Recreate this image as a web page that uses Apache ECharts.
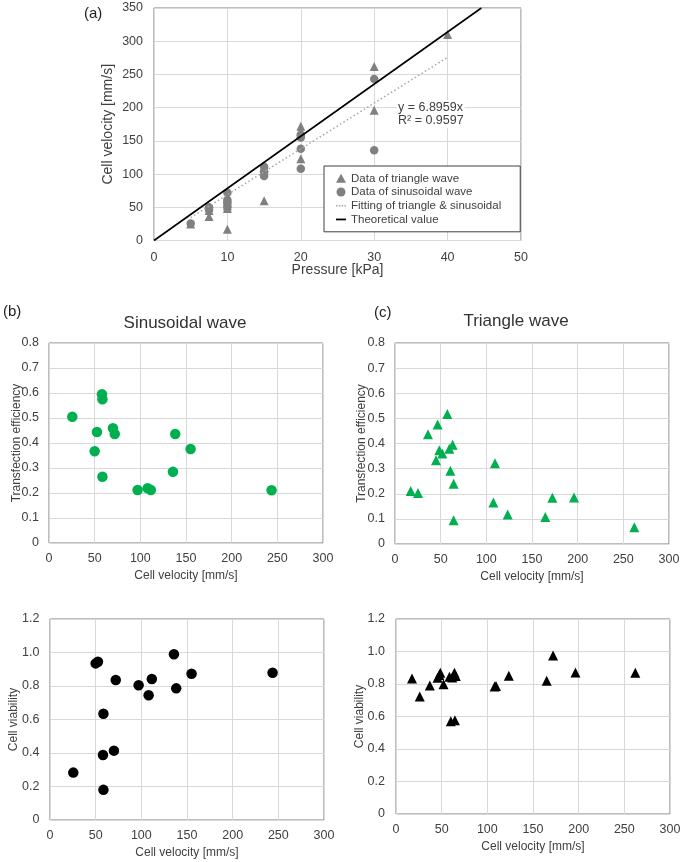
<!DOCTYPE html>
<html>
<head>
<meta charset="utf-8">
<script src="https://cdn.jsdelivr.net/npm/echarts@6/dist/echarts.min.js"></script>
<style>
  html, body { margin: 0; padding: 0; background: #fff; }
  #chart { width: 684px; height: 862px; }
</style>
</head>
<body>
<div id="chart"></div>
<script>
// (a) pressure vs cell velocity
var triPressure = [5, 7.5, 7.5, 10, 10, 10, 10, 10, 15, 15, 15, 20, 20, 20, 30, 30, 40];
var triVelocityA = [25, 36, 45, 17, 48, 52, 58, 64, 60, 108, 110, 123, 165, 172, 196, 262, 310];
var sinPressure = [5, 7.5, 7.5, 10, 10, 10, 10, 15, 15, 15, 20, 20, 20, 20, 30, 30];
var sinVelocityA = [25.5, 46, 50, 50, 56, 61, 72, 97, 104, 111, 108, 138, 155, 159, 136, 243];
var fitX = [5, 40];
var fitY = [34.5, 275.8];
var theoryX = [0, 44.6];
var theoryY = [0, 350];

// (b) sinusoidal wave
var sinVel = [25.5, 50, 52.5, 58, 58.5, 58.5, 70, 72, 97, 108, 111.5, 135.7, 138.2, 155, 243.7];
var sinEff = [0.505, 0.367, 0.444, 0.595, 0.575, 0.265, 0.459, 0.436, 0.212, 0.219, 0.212, 0.285, 0.436, 0.376, 0.211];
var sinVia = [0.283, 0.935, 0.945, 0.388, 0.634, 0.180, 0.414, 0.836, 0.804, 0.745, 0.842, 0.990, 0.786, 0.873, 0.879];

// (c) triangle wave
var triVelEff = [17.2, 25.2, 36.1, 44.9, 46.7, 48.5, 51.8, 57.3, 59.5, 60.6, 63.1, 64.2, 64.2, 107.7, 109.5, 123.4, 164.6, 172.3, 196, 262];
var triEff = [0.211, 0.203, 0.437, 0.333, 0.476, 0.373, 0.360, 0.517, 0.379, 0.292, 0.395, 0.240, 0.095, 0.165, 0.321, 0.117, 0.107, 0.184, 0.185, 0.067];
var triVelVia = [17.5, 26, 37, 45.5, 47.5, 48.5, 52, 58.5, 60, 61.5, 64, 64.5, 65.5, 108, 109.5, 123.5, 165, 172, 196.5, 262];
var triVia = [0.834, 0.723, 0.791, 0.838, 0.855, 0.869, 0.799, 0.845, 0.571, 0.84, 0.869, 0.577, 0.849, 0.785, 0.787, 0.851, 0.82, 0.976, 0.871, 0.869];

function pairs(xs, ys) {
    return xs.map(function (x, i) { return [x, ys[i]]; });
}

var FONT = '"Liberation Sans", Arial, sans-serif';
var TXT = '#404040';
var GRID_LINE = '#d9d9d9';
var BORDER = '#7a7a7a';
var GREEN = '#00b050';

function valueAxis(opt) {
    return {
        type: 'value',
        gridIndex: opt.grid,
        min: opt.min,
        max: opt.max,
        interval: opt.interval,
        name: opt.name,
        nameLocation: 'middle',
        nameGap: opt.nameGap,
        nameMoveOverlap: false,
        nameTextStyle: { fontFamily: FONT, fontSize: opt.nameSize || 12, color: TXT },
        axisLine: { show: false },
        axisTick: { show: false },
        axisLabel: {
            fontFamily: FONT, fontSize: 12.5, color: TXT, margin: opt.margin || 10,
            formatter: opt.formatter
        },
        splitLine: { show: true, lineStyle: { color: GRID_LINE, width: 1 } }
    };
}

function oneDecimal(v) {
    return v === 0 ? '0' : v.toFixed(1);
}

var chart = echarts.init(document.getElementById('chart'));

var gridBase = { show: true, borderColor: BORDER, borderWidth: 1, backgroundColor: 'transparent' };

// short line icons for the legend (dotted fit / solid theory)
var dotIcon = 'path://M0,0h1.6v1.6h-1.6z M3,0h1.6v1.6h-1.6z M6,0h1.6v1.6h-1.6z M9,0h1.6v1.6h-1.6z';
var lineIcon = 'path://M0,0h9v1.6h-9z';

var option = {
    animation: false,
    textStyle: { fontFamily: FONT },
    grid: [
        Object.assign({ left: 154, top: 8, width: 367, height: 232.5 }, gridBase),
        Object.assign({ left: 49, top: 343, width: 274, height: 200 }, gridBase),
        Object.assign({ left: 395, top: 343, width: 274, height: 201 }, gridBase),
        Object.assign({ left: 50, top: 619, width: 274, height: 201 }, gridBase),
        Object.assign({ left: 396, top: 619, width: 274, height: 195 }, gridBase)
    ],
    xAxis: [
        valueAxis({ grid: 0, min: 0, max: 50, interval: 10, name: 'Pressure [kPa]', nameGap: 23, nameSize: 14, margin: 11 }),
        valueAxis({ grid: 1, min: 0, max: 300, interval: 50, name: 'Cell velocity [mm/s]', nameGap: 27, margin: 9 }),
        valueAxis({ grid: 2, min: 0, max: 300, interval: 50, name: 'Cell velocity [mm/s]', nameGap: 27, margin: 9 }),
        valueAxis({ grid: 3, min: 0, max: 300, interval: 50, name: 'Cell velocity [mm/s]', nameGap: 27, margin: 9 }),
        valueAxis({ grid: 4, min: 0, max: 300, interval: 50, name: 'Cell velocity [mm/s]', nameGap: 27, margin: 9 })
    ],
    yAxis: [
        valueAxis({ grid: 0, min: 0, max: 350, interval: 50, name: 'Cell velocity [mm/s]', nameGap: 39, nameSize: 14, margin: 11 }),
        valueAxis({ grid: 1, min: 0, max: 0.8, interval: 0.1, name: 'Transfection efficiency', nameGap: 26, margin: 10 }),
        valueAxis({ grid: 2, min: 0, max: 0.8, interval: 0.1, name: 'Transfection efficiency', nameGap: 27.5, margin: 10 }),
        valueAxis({ grid: 3, min: 0, max: 1.2, interval: 0.2, name: 'Cell viability', nameGap: 30.5, margin: 10.5, formatter: oneDecimal }),
        valueAxis({ grid: 4, min: 0, max: 1.2, interval: 0.2, name: 'Cell viability', nameGap: 30, margin: 11, formatter: oneDecimal })
    ],
    legend: {
        data: [
            { name: 'Data of triangle wave', icon: 'triangle' },
            { name: 'Data of sinusoidal wave', icon: 'circle' },
            { name: 'Fitting of triangle & sinusoidal', icon: dotIcon },
            { name: 'Theoretical value', icon: lineIcon }
        ],
        orient: 'vertical',
        left: 324,
        top: 166,
        padding: [6, 19, 6, 12],
        itemWidth: 10,
        itemHeight: 9,
        itemGap: 1,
        symbolKeepAspect: true,
        borderColor: '#404040',
        borderWidth: 1,
        backgroundColor: '#fff',
        selectedMode: false,
        textStyle: { fontFamily: FONT, fontSize: 11.5, color: TXT, lineHeight: 12.7 }
    },
    series: [
        {
            name: 'Data of triangle wave', type: 'scatter', xAxisIndex: 0, yAxisIndex: 0,
            symbol: 'triangle', symbolSize: 9,
            itemStyle: { color: '#808080', opacity: 1 },
            data: pairs(triPressure, triVelocityA)
        },
        {
            name: 'Data of sinusoidal wave', type: 'scatter', xAxisIndex: 0, yAxisIndex: 0,
            symbol: 'circle', symbolSize: 8.5,
            itemStyle: { color: '#808080', opacity: 1 },
            data: pairs(sinPressure, sinVelocityA)
        },
        {
            name: 'Fitting of triangle & sinusoidal', type: 'line', xAxisIndex: 0, yAxisIndex: 0,
            symbol: 'none', z: 3,
            lineStyle: { color: '#a6a6a6', width: 1.5, type: [1.5, 2.5] },
            itemStyle: { color: '#a6a6a6' },
            data: pairs(fitX, fitY)
        },
        {
            name: 'Theoretical value', type: 'line', xAxisIndex: 0, yAxisIndex: 0,
            symbol: 'none', z: 3,
            lineStyle: { color: '#000', width: 1.6 },
            itemStyle: { color: '#000' },
            data: pairs(theoryX, theoryY)
        },
        {
            type: 'scatter', xAxisIndex: 1, yAxisIndex: 1,
            symbol: 'circle', symbolSize: 10.5,
            itemStyle: { color: GREEN, opacity: 1 },
            data: pairs(sinVel, sinEff)
        },
        {
            type: 'scatter', xAxisIndex: 2, yAxisIndex: 2,
            symbol: 'triangle', symbolSize: 10,
            itemStyle: { color: GREEN, opacity: 1 },
            data: pairs(triVelEff, triEff)
        },
        {
            type: 'scatter', xAxisIndex: 3, yAxisIndex: 3,
            symbol: 'circle', symbolSize: 10.5,
            itemStyle: { color: '#000', opacity: 1 },
            data: pairs(sinVel, sinVia)
        },
        {
            type: 'scatter', xAxisIndex: 4, yAxisIndex: 4,
            symbol: 'triangle', symbolSize: 10,
            itemStyle: { color: '#000', opacity: 1 },
            data: pairs(triVelVia, triVia)
        }
    ],
    graphic: [
        { type: 'text', left: 84, top: 6, style: { text: '(a)', font: '15px ' + FONT, fill: '#222' } },
        { type: 'text', left: 3, top: 304, style: { text: '(b)', font: '15px ' + FONT, fill: '#222' } },
        { type: 'text', left: 374, top: 305, style: { text: '(c)', font: '15px ' + FONT, fill: '#222' } },
        { type: 'text', x: 185, y: 323, style: { text: 'Sinusoidal wave', font: '17px ' + FONT, fill: '#333', textAlign: 'center', textVerticalAlign: 'middle' } },
        { type: 'text', x: 516, y: 321, style: { text: 'Triangle wave', font: '17px ' + FONT, fill: '#333', textAlign: 'center', textVerticalAlign: 'middle' } },
        {
            type: 'text', left: 397, top: 100, z: 10,
            style: {
                text: 'y = 6.8959x\nR² = 0.9597', font: '12.5px ' + FONT, fill: TXT, lineHeight: 13,
                backgroundColor: '#fff', padding: [1, 1]
            }
        }
    ]
};

chart.setOption(option);
</script>
</body>
</html>
